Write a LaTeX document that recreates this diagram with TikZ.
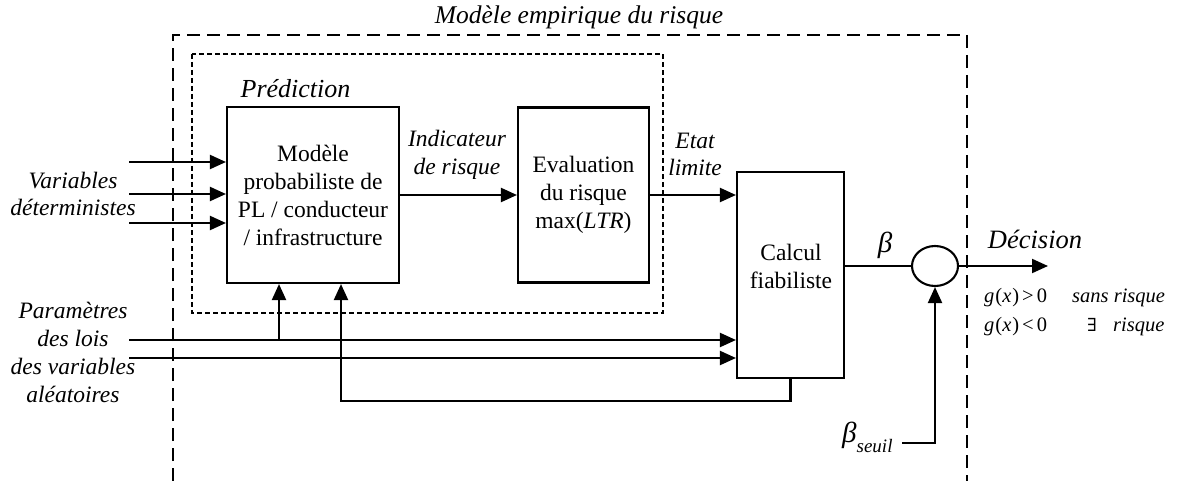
\documentclass[tikz,border=0pt]{standalone}
\usepackage{fontspec}
\setmainfont{Liberation Serif}
\newfontfamily\symfont{DejaVu Serif}
\usetikzlibrary{arrows.meta,shapes.geometric}
\begin{document}
\begin{tikzpicture}[x=1pt,y=-1pt,
  box/.style={draw,line width=2.1pt,inner sep=0pt,align=center,font=\fontsize{23.5}{28}\selectfont},
  lbl/.style={inner sep=0pt,align=center,font=\fontsize{23.5}{27.7}\selectfont\itshape},
  arr/.style={line width=2.1pt,-{Triangle[length=16pt,width=14pt]}},
  ln/.style={line width=2.1pt},
  outerdash/.style={line width=2.2pt,dash pattern=on 13pt off 7pt},
  innerdash/.style={line width=1.2pt,dash pattern=on 5pt off 3pt},
  small/.style={anchor=base west,inner sep=0pt,font=\fontsize{20.5}{24}\selectfont}]
\useasboundingbox (0,0) rectangle (1180,481);

% frames
\draw[outerdash] (173,481) -- (173,35) -- (967,35) -- (967,481);
\draw[innerdash] (192,54) rectangle (663,313);

% boxes
\node[box,minimum width=172pt,minimum height=176pt] (model) at (313,195)
  {Modèle\\probabiliste de\\PL / conducteur\\/ infrastructure};
\node[box,minimum width=131pt,minimum height=175pt] (eval) at (583.5,195)
  {Evaluation\\du risque\\max(\textit{LTR})};
\node[box,minimum width=107pt,minimum height=206pt] (calc) at (790.5,275) {};
\node[inner sep=0pt,align=center,font=\fontsize{23.5}{28}\selectfont] (calctxt) at (791,266) {Calcul\\fiabiliste};
\node[draw,ellipse,line width=2.1pt,minimum width=46pt,minimum height=40pt,inner sep=0pt] (circ) at (935,266) {};

% labels
\node[inner sep=0pt,font=\fontsize{25.5}{30}\selectfont\itshape] (title) at (579,17) {Modèle empirique du risque};
\node[inner sep=0pt,font=\fontsize{26}{30}\selectfont\itshape] (pred) at (295.5,89) {Prédiction};
\node[lbl] (vard) at (73,194) {Variables\\déterministes};
\node[lbl] (param) at (73,352.5) {Paramètres\\des lois\\des variables\\aléatoires};
\node[lbl] (ind) at (457,154.5) {Indicateur\\de risque};
\node[lbl] (etat) at (695,154.5) {Etat\\limite};
\node[inner sep=0pt,font=\fontsize{29}{30}\selectfont\itshape] (beta) at (885,245) {β};
\node[inner sep=0pt,font=\fontsize{26.5}{30}\selectfont\itshape] (dec) at (1035,239) {Décision};
\node[anchor=base west,inner sep=0pt,font=\fontsize{29}{30}\selectfont\itshape] (bs) at (842,442)
  {β\raisebox{-10pt}{\fontsize{19}{20}\selectfont seuil}};
\node[small] (g1) at (984,302) {\textit{g}\kern1pt(\textit{x}\kern1pt)\hspace{3pt}>\hspace{3pt}0};
\node[small,font=\fontsize{20.5}{24}\selectfont\itshape] (s1) at (1072,302) {sans risque};
\node[small] (g2) at (984,331) {\textit{g}\kern1pt(\textit{x}\kern1pt)\hspace{3pt}<\hspace{3pt}0};
\node[small,font=\fontsize{18}{24}\selectfont\symfont] (ex) at (1087,331) {∃};
\node[small,font=\fontsize{20.5}{24}\selectfont\itshape] (r2) at (1113,331) {risque};

% coordinates
\coordinate (v1) at (129,162);
\coordinate (v2) at (129,194);
\coordinate (v3) at (129,223);
\coordinate (p1) at (129,340);
\coordinate (p2) at (129,358);
\coordinate (j1) at (279,340);
\coordinate (fb) at (341,401);
\coordinate (out) at (1048,266);
\coordinate (bsend) at (902,443);

% connectors
\draw[arr] (v1) -- (v1 -| model.west);
\draw[arr] (v2) -- (v2 -| model.west);
\draw[arr] (v3) -- (v3 -| model.west);
\draw[arr] (model.east) -- (eval.west);
\draw[arr] (eval.east) -- (eval.east -| calc.west);
\draw[arr] (p1) -- (p1 -| calc.west);
\draw[arr] (p2) -- (p2 -| calc.west);
\draw[arr] (j1) -- (j1 |- model.south);
\draw[arr] (calc.south) |- (fb) -- (fb |- model.south);
\draw[ln] (calc.east |- circ.west) -- (circ.west);
\draw[arr] (circ.east) -- (out);
\draw[arr] (bsend) -| (circ.south);
\end{tikzpicture}
\end{document}
